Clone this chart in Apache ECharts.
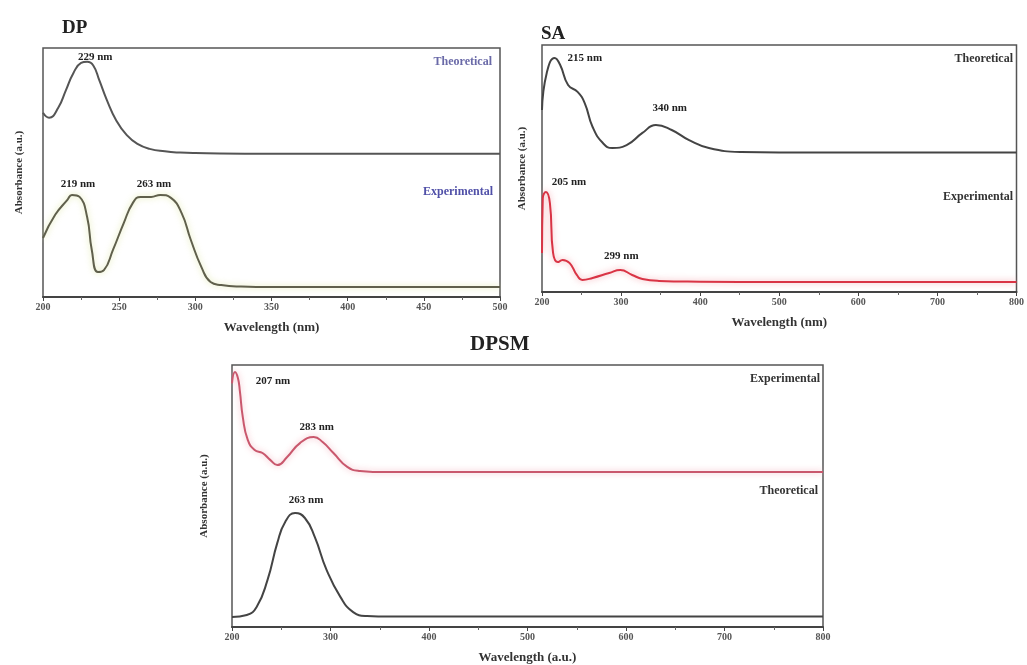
<!DOCTYPE html>
<html lang="en">
<head>
    <meta charset="UTF-8">
    <title>DP / SA / DPSM UV spectra</title>
    <style>
        html, body { margin: 0; padding: 0; background: #fff; }
        #main { width: 1027px; height: 665px; }
    </style>
</head>
<body>
<script src="https://cdn.jsdelivr.net/npm/echarts@6/dist/echarts.min.js"></script>

<div id="main"></div>

<script type="text/javascript">
    // wavelength (nm) and absorbance (a.u., curves stacked with an offset)
    var dpTheoWl  = [200, 204, 210, 215, 220, 225, 229, 233, 237, 242, 248, 255, 262, 270, 280, 290, 300, 350, 400, 450, 500];
    var dpTheoAbs = [74, 72, 76, 83, 90, 94, 94.5, 93, 87, 79, 71, 65, 61.5, 59.5, 58.5, 58, 57.8, 57.5, 57.5, 57.5, 57.5];

    var dpExpWl  = [200, 208, 216, 219, 224, 229, 232, 236, 240, 246, 253, 259, 264, 271, 277, 284, 291, 297, 304, 310, 317, 330, 350, 400, 450, 500];
    var dpExpAbs = [23.7, 33, 39, 41, 40.2, 32, 19, 10, 10.8, 19, 29.7, 37.8, 40.2, 40.2, 41, 39.8, 33.7, 23, 12, 6, 4.8, 4.2, 4, 4, 4, 4];

    var saTheoWl  = [200, 206, 216, 223, 233, 245, 254, 264, 277, 289, 307, 327, 344, 364, 386, 411, 452, 500, 600, 700, 800];
    var saTheoAbs = [73.7, 88.7, 94.7, 91.9, 83.8, 81, 76.5, 66.8, 60.3, 58.3, 59.5, 64.4, 67.6, 65.6, 61.5, 58.3, 56.7, 56.5, 56.5, 56.5, 56.5];

    var saExpWl  = [200, 201, 205, 210, 214, 220, 226, 235, 244, 251, 264, 285, 299, 314, 327, 348, 400, 500, 600, 700, 800];
    var saExpAbs = [15.8, 38, 40.5, 36, 15.8, 12.1, 13, 11.7, 6.9, 4.9, 5.7, 7.7, 8.9, 6.9, 5.3, 4.5, 4.2, 4, 4, 4, 4];

    var dpsmExpWl  = [200, 203, 206, 208, 211, 216, 223, 231, 239, 246, 256, 269, 283, 292, 303, 317, 330, 343, 400, 500, 600, 700, 800];
    var dpsmExpAbs = [93, 97.3, 95, 90, 80, 71.4, 67.6, 66.4, 63.7, 61.8, 64.9, 70.2, 72.5, 70.6, 66.4, 61.1, 59.5, 59.2, 59.2, 59.2, 59.2, 59.2, 59.2];

    var dpsmTheoWl  = [200, 215, 225, 236, 246, 254, 264, 274, 284, 296, 310, 323, 337, 360, 400, 500, 600, 700, 800];
    var dpsmTheoAbs = [3.8, 4.6, 7.6, 17.9, 32.1, 40.1, 43.5, 41.6, 34.4, 21.8, 11.5, 5.7, 4.2, 4, 4, 4, 4, 4, 4];

    // peak annotations: [wavelength, absorbance at peak]
    var dpTheoPeaks   = [[229, 94.5]];
    var dpExpPeaks    = [[219, 41], [263, 40]];
    var saTheoPeaks   = [[215, 94.7], [340, 67.6]];
    var saExpPeaks    = [[205, 40.5], [299, 8.9]];
    var dpsmExpPeaks  = [[207, 94], [283, 72.5]];
    var dpsmTheoPeaks = [[263, 43.5]];

    var FONT = "'Liberation Serif', 'DejaVu Serif', serif";
    var W = 1027;

    function zip(xs, ys) {
        var out = [];
        for (var i = 0; i < xs.length; i++) out.push([xs[i], ys[i]]);
        return out;
    }

    function peakMarks(peaks, offsets) {
        return {
            symbol: 'circle',
            symbolSize: 1,
            itemStyle: { color: 'rgba(0,0,0,0)' },
            label: {
                show: true,
                position: 'inside',
                color: '#222',
                fontFamily: FONT,
                fontWeight: 'bold',
                fontSize: 11,
                formatter: function (p) { return p.data.coord[0] + ' nm'; }
            },
            data: peaks.map(function (p, i) {
                return { coord: [p[0], p[1]], label: { offset: offsets[i] } };
            })
        };
    }

    function xAxisFor(grid, max, interval, name) {
        return {
            type: 'value', gridIndex: grid, min: 200, max: max, interval: interval,
            name: name, nameLocation: 'middle', nameGap: 24,
            nameTextStyle: { fontFamily: FONT, fontWeight: 'bold', fontSize: 13, color: '#333' },
            axisLine: { show: true, lineStyle: { color: '#444', width: 2 } },
            axisTick: { show: true, length: 4, lineStyle: { color: '#444' } },
            minorTick: { show: true, splitNumber: 2, length: 3, lineStyle: { color: '#666' } },
            axisLabel: { fontFamily: FONT, fontWeight: 'bold', fontSize: 10, color: '#555', margin: 5 },
            splitLine: { show: false }
        };
    }

    function yAxisFor(grid, gap) {
        return {
            type: 'value', gridIndex: grid, min: 0, max: 100,
            name: 'Absorbance (a.u.)', nameLocation: 'middle', nameGap: gap,
            nameTextStyle: { fontFamily: FONT, fontWeight: 'bold', fontSize: 11, color: '#333' },
            axisLine: { show: false }, axisTick: { show: false },
            axisLabel: { show: false }, splitLine: { show: false }
        };
    }

    function curve(x, data, color, glow) {
        return {
            type: 'line', xAxisIndex: x, yAxisIndex: x,
            data: data, showSymbol: false, smooth: 0.5,
            lineStyle: { color: color, width: 2, shadowColor: glow, shadowBlur: glow ? 6 : 0 }
        };
    }

    // series name tag, right edge at x, vertical centre at y
    function tag(text, x, y, color) {
        return {
            type: 'text', right: W - x, top: y - 7,
            style: { text: text, fill: color, font: 'bold 12px ' + FONT }
        };
    }

    var myChart = echarts.init(document.getElementById('main'));

    var dpTheoS = curve(0, zip(dpTheoWl, dpTheoAbs), '#555');
    dpTheoS.markPoint = peakMarks(dpTheoPeaks, [[8, -5]]);
    var dpExpS = curve(0, zip(dpExpWl, dpExpAbs), '#60604c', 'rgba(215,225,140,0.8)');
    dpExpS.markPoint = peakMarks(dpExpPeaks, [[6, -11], [15, -13]]);

    var saTheoS = curve(1, zip(saTheoWl, saTheoAbs), '#444');
    saTheoS.markPoint = peakMarks(saTheoPeaks, [[31, 0], [17, -17]]);
    var saExpS = curve(1, zip(saExpWl, saExpAbs), '#d93445', 'rgba(240,140,150,0.8)');
    saExpS.markPoint = peakMarks(saExpPeaks, [[23, -10], [1, -14]]);

    var dpsmExpS = curve(2, zip(dpsmExpWl, dpsmExpAbs), '#c9586d', 'rgba(240,160,175,0.8)');
    dpsmExpS.markPoint = peakMarks(dpsmExpPeaks, [[34, 0], [3, -10]]);
    var dpsmTheoS = curve(2, zip(dpsmTheoWl, dpsmTheoAbs), '#444');
    dpsmTheoS.markPoint = peakMarks(dpsmTheoPeaks, [[12, -13]]);

    var gridBox = { show: true, borderColor: '#555', borderWidth: 1.5, backgroundColor: '#fff' };

    myChart.setOption({
        animation: false,
        backgroundColor: '#fff',
        grid: [
            Object.assign({ left: 43, top: 48, width: 457, height: 249 }, gridBox),
            Object.assign({ left: 542, top: 45, width: 477, height: 247 }, gridBox),
            Object.assign({ left: 232, top: 365, width: 591, height: 262 }, gridBox)
        ],
        xAxis: [
            xAxisFor(0, 500, 50, 'Wavelength (nm)'),
            xAxisFor(1, 800, 100, 'Wavelength (nm)'),
            xAxisFor(2, 800, 100, 'Wavelength (a.u.)')
        ],
        yAxis: [yAxisFor(0, 18), yAxisFor(1, 14), yAxisFor(2, 22)],
        graphic: [
            { type: 'text', left: 62, top: 19, style: { text: 'DP', fill: '#222', font: 'bold 19px ' + FONT } },
            { type: 'text', left: 541, top: 25, style: { text: 'SA', fill: '#222', font: 'bold 19px ' + FONT } },
            { type: 'text', left: 470, top: 334, style: { text: 'DPSM', fill: '#222', font: 'bold 21px ' + FONT } },
            tag('Theoretical', 492, 63, '#6a6aa8'),
            tag('Experimental', 493, 193, '#5050a8'),
            tag('Theoretical', 1013, 60, '#333'),
            tag('Experimental', 1013, 198, '#333'),
            tag('Experimental', 820, 380, '#333'),
            tag('Theoretical', 818, 492, '#333')
        ],
        series: [dpTheoS, dpExpS, saTheoS, saExpS, dpsmExpS, dpsmTheoS]
    });
</script>
</body>
</html>
